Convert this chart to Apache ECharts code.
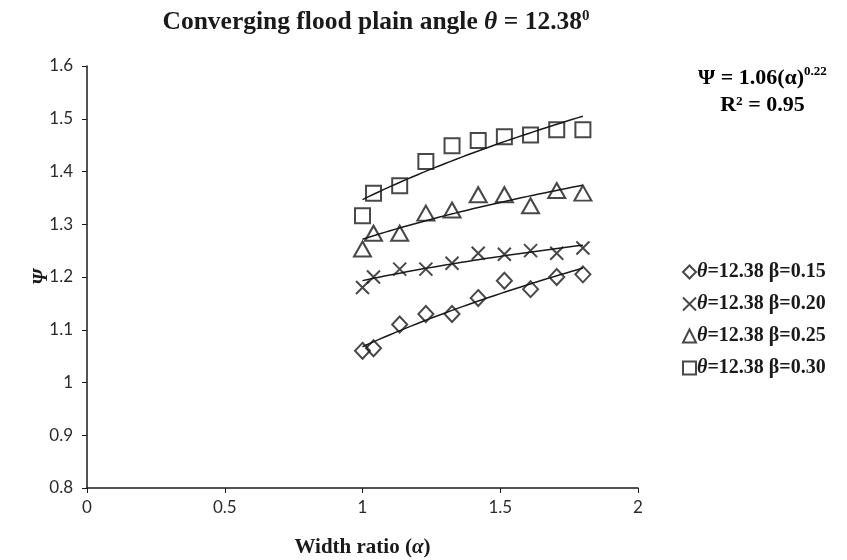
<!DOCTYPE html>
<html>
<head>
<meta charset="utf-8">
<script src="https://cdn.jsdelivr.net/npm/echarts@6/dist/echarts.min.js"></script>
<style>
  html, body { margin: 0; padding: 0; background: #fff; }
  #chart { width: 847px; height: 560px; }
</style>
</head>
<body>
<div id="chart"></div>
<script>
// Width ratio (alpha) values shared by all four runs
var alphaValues = [1.00, 1.04, 1.135, 1.23, 1.325, 1.42, 1.515, 1.61, 1.705, 1.80];

// Measured Psi for each relative depth beta
var psiBeta015 = [1.060, 1.065, 1.110, 1.130, 1.130, 1.160, 1.193, 1.177, 1.200, 1.205];
var psiBeta020 = [1.180, 1.200, 1.215, 1.215, 1.226, 1.245, 1.243, 1.250, 1.245, 1.255];
var psiBeta025 = [1.253, 1.283, 1.283, 1.321, 1.327, 1.356, 1.356, 1.335, 1.364, 1.359];
var psiBeta030 = [1.316, 1.359, 1.373, 1.419, 1.449, 1.459, 1.466, 1.469, 1.479, 1.479];

var seriesNames = ['β015', 'β020', 'β025', 'β030'];
var legendLabels = ['0.15', '0.20', '0.25', '0.30'];

var xTicks = { min: 0, max: 2, step: 0.5 };
var yTicks = { min: 0.8, max: 1.6, step: 0.1 };

var ink = '#1a1a1a';
var serif = '"Liberation Serif", "DejaVu Serif", serif';
var sans = 'Lato, "Open Sans", sans-serif';

var crossPath = 'path://M0,0L10,10M10,0L0,10';
var symbols = ['diamond', crossPath, 'triangle', 'rect'];
var symbolSizes = [[15, 16], 13, [17, 15], 15];
var psiSets = [psiBeta015, psiBeta020, psiBeta025, psiBeta030];

// Least-squares power fit  y = a * x^b  (regression in log space)
function powerFit(xs, ys) {
  var n = xs.length, sx = 0, sy = 0, sxx = 0, sxy = 0;
  for (var i = 0; i < n; i++) {
    var lx = Math.log(xs[i]), ly = Math.log(ys[i]);
    sx += lx; sy += ly; sxx += lx * lx; sxy += lx * ly;
  }
  var b = (n * sxy - sx * sy) / (n * sxx - sx * sx);
  var a = Math.exp((sy - b * sx) / n);
  return { a: a, b: b };
}

function trendPoints(xs, ys) {
  var f = powerFit(xs, ys);
  var lo = xs[0], hi = xs[xs.length - 1], pts = [];
  for (var k = 0; k <= 40; k++) {
    var x = lo + (hi - lo) * k / 40;
    pts.push([x, f.a * Math.pow(x, f.b)]);
  }
  return pts;
}

var series = [];
psiSets.forEach(function (ys, i) {
  series.push({
    name: seriesNames[i],
    type: 'scatter',
    symbol: symbols[i],
    symbolSize: symbolSizes[i],
    itemStyle: { color: 'rgba(255,255,255,0)', borderColor: ink, borderWidth: 2 },
    data: alphaValues.map(function (x, j) { return [x, ys[j]]; }),
    z: 3
  });
  series.push({
    name: 'fit' + i,
    type: 'line',
    showSymbol: false,
    symbol: 'none',
    smooth: false,
    lineStyle: { color: ink, width: 1.5 },
    data: trendPoints(alphaValues, ys),
    silent: true,
    z: 2
  });
});

var chart = echarts.init(document.getElementById('chart'), null, { renderer: 'canvas' });

chart.setOption({
  backgroundColor: '#fff',
  animation: false,
  title: {
    left: 371,
    textAlign: 'center',
    top: 4,
    text: '{b|Converging flood plain angle }{i|θ}{b| = 12.38}{sup|0}',
    textStyle: {
      rich: {
        b: { fontFamily: serif, fontWeight: 'bold', fontSize: 25.5, color: ink },
        i: { fontFamily: serif, fontWeight: 'bold', fontStyle: 'italic', fontSize: 25.5, color: ink },
        sup: { fontFamily: serif, fontWeight: 'bold', fontSize: 15, color: ink, verticalAlign: 'top', padding: [0, 0, 10, 0] }
      }
    }
  },
  graphic: [{
    type: 'text',
    left: 698,
    top: 65,
    style: {
      text: '{b|Ψ = 1.06(α)}{sup|0.22}\n{c|R² = 0.95}',
      align: 'center',
      rich: {
        b: { fontFamily: serif, fontWeight: 'bold', fontSize: 22, color: ink, lineHeight: 27 },
        sup: { fontFamily: serif, fontWeight: 'bold', fontSize: 13, color: ink, verticalAlign: 'top', padding: [0, 0, 10, 0] },
        c: { fontFamily: serif, fontWeight: 'bold', fontSize: 22, color: ink, lineHeight: 27, align: 'center' }
      }
    }
  }],
  legend: {
    data: seriesNames,
    orient: 'vertical',
    left: 677,
    top: 257,
    itemGap: 12,
    itemWidth: 13,
    itemHeight: 13,
    formatter: function (name) {
      var i = seriesNames.indexOf(name);
      return '{i|θ}{b|=12.38 β=' + legendLabels[i] + '}';
    },
    textStyle: {
      padding: [0, 0, 0, -4],
      rich: {
        i: { fontFamily: serif, fontWeight: 'bold', fontStyle: 'italic', fontSize: 20, color: ink, lineHeight: 23 },
        b: { fontFamily: serif, fontWeight: 'bold', fontSize: 20, color: ink, lineHeight: 23 }
      }
    }
  },
  grid: { left: 87, right: 209, top: 66, bottom: 72, containLabel: false, outerBoundsMode: 'none' },
  xAxis: {
    type: 'value',
    min: xTicks.min, max: xTicks.max, interval: xTicks.step,
    name: '{b|Width ratio (}{i|α}{b|)}',
    nameLocation: 'middle',
    nameGap: 49,
    nameMoveOverlap: false,
    nameTextStyle: {
      rich: {
        b: { fontFamily: serif, fontWeight: 'bold', fontSize: 21, color: ink },
        i: { fontFamily: serif, fontWeight: 'bold', fontStyle: 'italic', fontSize: 21, color: ink }
      }
    },
    axisLine: { onZero: false, lineStyle: { color: ink, width: 1.5 } },
    axisTick: { show: true, length: 5, inside: false, lineStyle: { color: ink, width: 1 } },
    axisLabel: { fontFamily: sans, fontSize: 17, color: '#2b2b2b', margin: 11 },
    splitLine: { show: false }
  },
  yAxis: {
    type: 'value',
    min: yTicks.min, max: yTicks.max, interval: yTicks.step,
    name: 'Ψ',
    nameLocation: 'middle',
    nameGap: 35,
    nameMoveOverlap: false,
    nameRotate: 90,
    nameTextStyle: { fontFamily: serif, fontWeight: 'bold', fontStyle: 'italic', fontSize: 20, color: ink },
    axisLine: { onZero: false, lineStyle: { color: ink, width: 1.5 } },
    axisTick: { show: true, length: 5, inside: false, lineStyle: { color: ink, width: 1 } },
    axisLabel: { fontFamily: sans, fontSize: 17, color: '#2b2b2b', margin: 14,
      formatter: function (v) { return String(Math.round(v * 10) / 10); } },
    splitLine: { show: false }
  },
  series: series
});
</script>
</body>
</html>
